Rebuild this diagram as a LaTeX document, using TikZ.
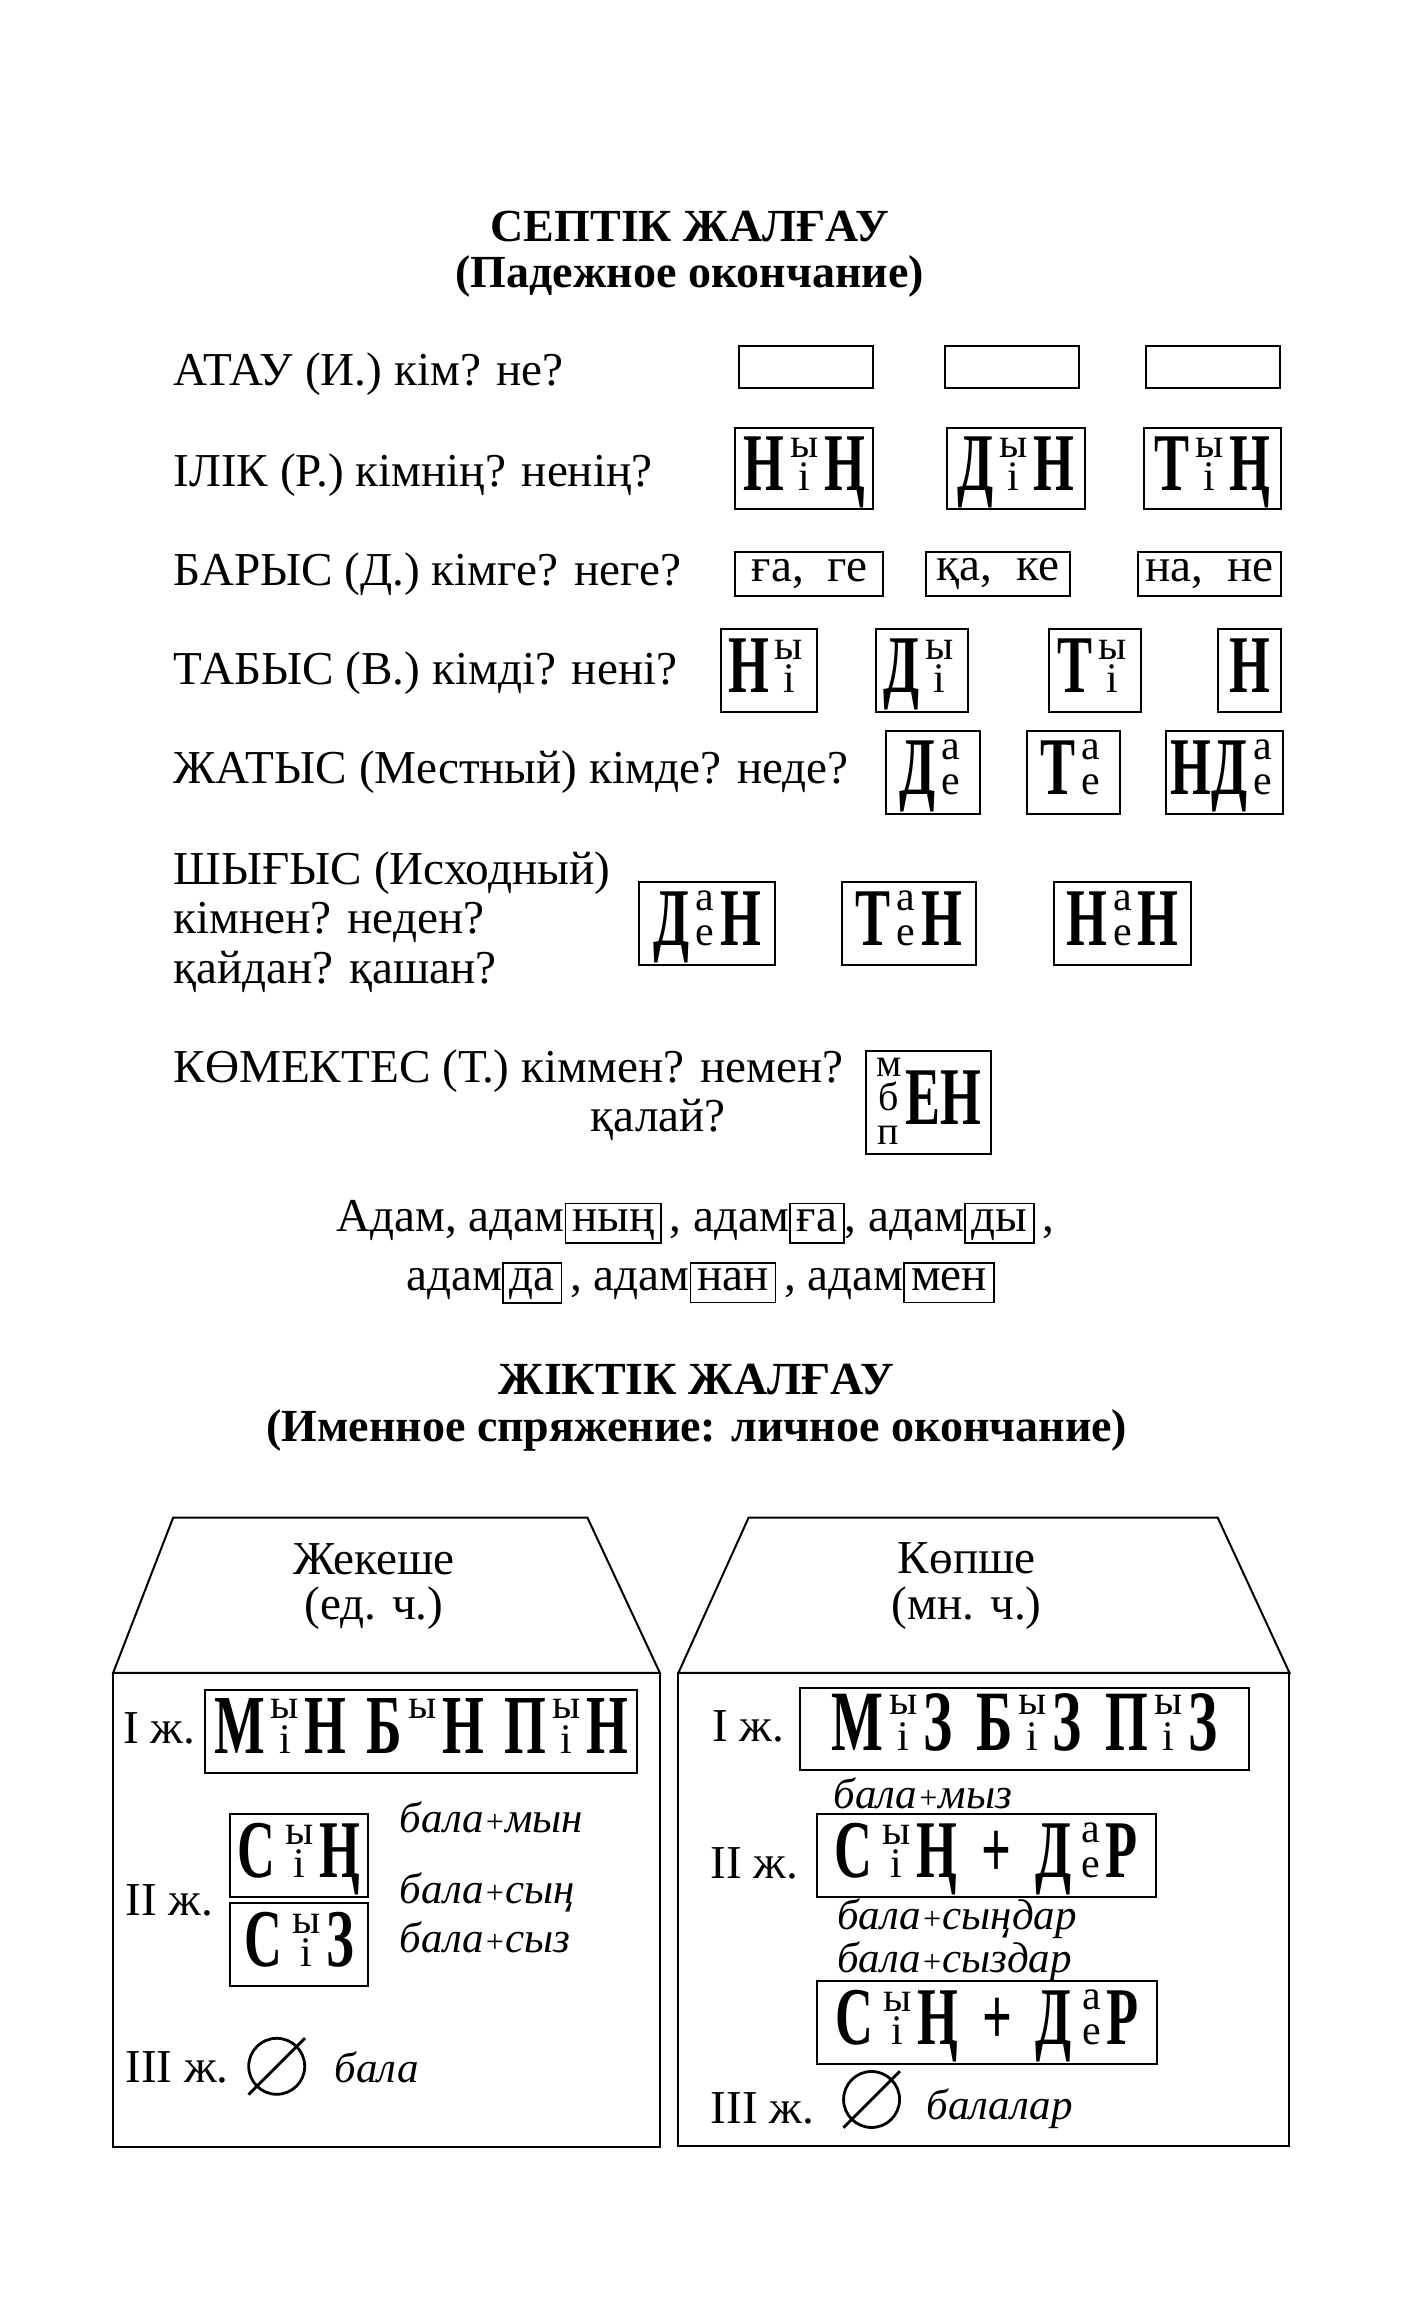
\documentclass[tikz,border=0pt]{standalone}
\usepackage{fontspec}
\setmainfont{Liberation Serif}
\newfontfamily\bigfont[FakeStretch=0.64]{Liberation Serif}

% big narrow capitals, and small letters stacked over each other
\newcommand{\BL}[2][41]{{\bigfont\bfseries\fontsize{#1}{#1}\selectfont#2}}
\newcommand{\Two}[3][16.5pt]{\kern3pt{\fontsize{21}{21}\selectfont\vbox{\baselineskip=#1\relax\lineskiplimit=-\maxdimen\halign{\hfil##\hfil\cr#2\cr#3\cr}}}\kern3pt}
\newcommand{\Three}[3]{\raisebox{-10pt}{\fontsize{20}{20}\selectfont\vbox{\baselineskip=17pt\relax\lineskiplimit=-\maxdimen\halign{\hfil##\hfil\cr#1\cr#2\cr#3\cr}}}\kern2pt}
\newcommand{\sfx}[1]{\fbox{\hspace{2pt}\rule[-4.5pt]{0pt}{17pt}#1\hspace{2pt}}}
\newcommand{\pl}{{\fontsize{16}{16}\selectfont+}}
\setlength{\fboxsep}{1pt}
\setlength{\fboxrule}{0.8pt}

\begin{document}
\begin{tikzpicture}[x=1pt, y=-1pt,
  lbl/.style={anchor=west, inner sep=0pt, font=\fontsize{23.6}{24.8}\selectfont, align=left},
  ttl/.style={inner sep=0pt, font=\bfseries\fontsize{23}{25}\selectfont},
  txt/.style={inner sep=0pt, font=\fontsize{23.6}{25}\selectfont},
  ending/.style={draw, line width=1pt, inner sep=0pt, text height=27pt, text depth=5pt},
  sending/.style={draw, line width=1pt, inner sep=0pt, font=\fontsize{23.6}{25}\selectfont},
  note/.style={anchor=west, inner sep=0pt, font=\itshape\fontsize{21.5}{22}\selectfont},
  house/.style={line width=1pt, line join=miter},
  zero/.style={circle, draw, line width=1.4pt, minimum size=28pt, inner sep=0pt}
]
\path[fill=white, use as bounding box] (0,0) rectangle (710.4,1160.3);

% Titles
\node[ttl] (sep) at (345,113.2) {СЕПТІК ЖАЛҒАУ};
\node[ttl] (sepsub) at (345,138.4) {(Падежное окончание)};

% Cases
\node[lbl] (atau) at (86.6,187.2) {АТАУ (И.) кім? не?};
\node[lbl] (ilik) at (86.6,237.5) {ІЛІК (Р.) кімнің? ненің?};
\node[lbl] (barys) at (86.6,287.1) {БАРЫС (Д.) кімге? неге?};
\node[lbl] (tabys) at (86.6,336.7) {ТАБЫС (В.) кімді? нені?};
\node[lbl] (zhatys) at (86.6,386.3) {ЖАТЫС (Местный) кімде? неде?};
\node[lbl] (shygys) at (86.6,461.0) {ШЫҒЫС (Исходный)\\кімнен? неден?\\қайдан? қашан?};
\node[lbl] (komek) at (86.6,535.8) {КӨМЕКТЕС (Т.) кіммен? немен?};
\node[lbl] (kalai) at (295.3,560.2) {қалай?};

% Endings
\node[draw, line width=1pt, minimum width=67pt, minimum height=20.7pt] (atau1) at (403.3,183.5) {};
\node[draw, line width=1pt, minimum width=67pt, minimum height=20.7pt] (atau2) at (506.2,183.5) {};
\node[draw, line width=1pt, minimum width=67pt, minimum height=20.7pt] (atau3) at (606.8,183.5) {};

\node[ending, minimum width=68.8pt, minimum height=40.7pt] (ilik1) at (402.2,234.2) {\BL{Н}\Two{ы}{і}\BL{Ң}};
\node[ending, minimum width=68.8pt, minimum height=40.7pt] (ilik2) at (508.0,234.2) {\BL{Д}\Two{ы}{і}\BL{Н}};
\node[ending, minimum width=68.8pt, minimum height=40.7pt] (ilik3) at (606.4,234.2) {\BL{Т}\Two{ы}{і}\BL{Ң}};

\node[sending, minimum width=74pt, minimum height=22.2pt] (barys1) at (404.8,287.1) {ға,~~ге};
\node[sending, minimum width=71.8pt, minimum height=22.2pt] (barys2) at (499.1,287.1) {қа,~~ке};
\node[sending, minimum width=71.8pt, minimum height=22.2pt] (barys3) at (604.9,287.1) {на,~~не};

\node[ending, minimum width=48.1pt, minimum height=41.5pt] (tabys1) at (384.4,335.2) {\BL{Н}\Two{ы}{і}};
\node[ending, minimum width=46pt, minimum height=41.5pt] (tabys2) at (461.0,335.2) {\BL{Д}\Two{ы}{і}};
\node[ending, minimum width=45.9pt, minimum height=41.5pt] (tabys3) at (547.6,335.2) {\BL{Т}\Two{ы}{і}};
\node[ending, minimum width=31.8pt, minimum height=41.5pt] (tabys4) at (624.9,335.2) {\BL{Н}};

\node[ending, minimum width=46.6pt, minimum height=41.4pt] (zhat1) at (466.6,386.3) {\BL{Д}\Two[17.5pt]{а}{е}};
\node[ending, minimum width=46.6pt, minimum height=41.4pt] (zhat2) at (536.9,386.3) {\BL{Т}\Two[17.5pt]{а}{е}};
\node[ending, minimum width=58.5pt, minimum height=41.4pt] (zhat3) at (612.4,386.3) {\BL{НД}\Two[17.5pt]{а}{е}};

\node[ending, minimum width=68.1pt, minimum height=41.4pt] (shyg1) at (353.7,461.8) {\BL{Д}\Two[17.5pt]{а}{е}\BL{Н}};
\node[ending, minimum width=67.3pt, minimum height=41.4pt] (shyg2) at (454.7,461.8) {\BL{Т}\Two[17.5pt]{а}{е}\BL{Н}};
\node[ending, minimum width=68.8pt, minimum height=41.4pt] (shyg3) at (561.3,461.8) {\BL{Н}\Two[17.5pt]{а}{е}\BL{Н}};

\node[ending, minimum width=62.9pt, minimum height=51.8pt] (komek1) at (464.4,551.3) {\Three{м}{б}{п}\BL{ЕН}};

% Examples
\node[txt] (ex1) at (347.8,611.2) {Адам, адам\sfx{ның}\,, адам\sfx{ға}, адам\sfx{ды}\,,};
\node[txt] (ex2) at (350.4,641.6) {адам\sfx{да}\,, адам\sfx{нан}\,, адам\sfx{мен}};

\node[ttl] (zhik) at (348.2,689.7) {ЖІКТІК ЖАЛҒАУ};
\node[ttl] (zhiksub) at (348.5,715.6) {(Именное спряжение: личное окончание)};

% Singular house
\draw[house] (86.6,759) -- (293.8,759) -- (330,836.6) -- (56.6,836.6) -- cycle;
\draw[house] (56.6,836.6) rectangle (330,1073.7);
\node[txt] (sing) at (187,780) {Жекеше};
\node[txt] (singsub) at (187,804.4) {(ед. ч.)};

\node[lbl] (s1) at (61.4,864.3) {І ж.};
\node[ending, minimum width=216.1pt, minimum height=41.5pt] (s1box) at (210.6,865.8)
  {\BL[42]{М}\Two[17.5pt]{ы}{і}\BL[42]{Н}\hspace{10pt}\BL[42]{Б}\Two[17.5pt]{ы}{\phantom{і}}\BL[42]{Н}\hspace{10pt}\BL[42]{П}\Two[17.5pt]{ы}{і}\BL[42]{Н}};
\node[lbl] (s2) at (62.5,950.2) {ІІ ж.};
\node[ending, minimum width=68.8pt, minimum height=41.5pt] (s2box) at (149.6,928) {\BL{С}\kern2pt\Two{ы}{і}\BL{Ң}};
\node[ending, minimum width=68.8pt, minimum height=41.5pt] (s2boxb) at (149.6,972.4) {\BL{С}\kern2pt\Two{ы}{і}\BL{З}};
\node[note] (sn1) at (199.8,908.7) {бала\pl мын};
\node[note] (sn2) at (199.8,946.5) {бала\pl сың};
\node[note] (sn3) at (199.8,968.7) {бала\pl сыз};
\node[lbl] (s3) at (62.5,1033.8) {ІІІ ж.};
\node[zero] (nul1) at (138.4,1033.4) {};
\draw[line width=1.4pt] ([shift={(-135:20pt)}]nul1.center) -- ([shift={(45:20pt)}]nul1.center);
\node[note] (sn4) at (167.2,1033.8) {бала};

% Plural house
\draw[house] (374.4,759) -- (609,759) -- (644.9,836.6) -- (339.3,836.6) -- cycle;
\draw[house] (339.3,836.6) rectangle (644.9,1073.4);
\node[txt] (plur) at (483.5,779.2) {Көпше};
\node[txt] (plursub) at (483.5,804.4) {(мн. ч.)};

\node[lbl] (p1) at (356,863.6) {І ж.};
\node[ending, minimum width=224.2pt, minimum height=40.7pt] (p1box) at (512.4,864.7)
  {\BL[43]{М}\Two[18pt]{ы}{і}\BL[43]{З}\hspace{12pt}\BL[43]{Б}\Two[18pt]{ы}{і}\BL[43]{З}\hspace{12pt}\BL[43]{П}\Two[18pt]{ы}{і}\BL[43]{З}};
\node[note] (pn1) at (416.6,896.9) {бала\pl мыз};
\node[lbl] (p2) at (355.2,931.7) {ІІ ж.};
\node[ending, minimum width=169.5pt, minimum height=41.5pt] (p2box) at (493.2,928)
  {\BL{С}\kern2pt\Two{ы}{і}\BL{Ң}\hspace{12pt}\BL{+}\hspace{12pt}\BL{Д}\kern2pt\Two[17.5pt]{а}{е}\BL{Р}};
\node[note] (pn2) at (418.5,959.8) {бала\pl сыңдар};
\node[note] (pn3) at (418.5,980.9) {бала\pl сыздар};
\node[ending, minimum width=170.2pt, minimum height=41.4pt] (p2boxb) at (493.6,1011.6)
  {\BL{С}\kern2pt\Two{ы}{і}\BL{Ң}\hspace{12pt}\BL{+}\hspace{12pt}\BL{Д}\kern2pt\Two[17.5pt]{а}{е}\BL{Р}};
\node[lbl] (p3) at (355.2,1054.5) {ІІІ ж.};
\node[zero] (nul2) at (435.9,1050) {};
\draw[line width=1.4pt] ([shift={(-135:20pt)}]nul2.center) -- ([shift={(45:20pt)}]nul2.center);
\node[note] (pn4) at (463.2,1054.5) {балалар};

\end{tikzpicture}
\end{document}
